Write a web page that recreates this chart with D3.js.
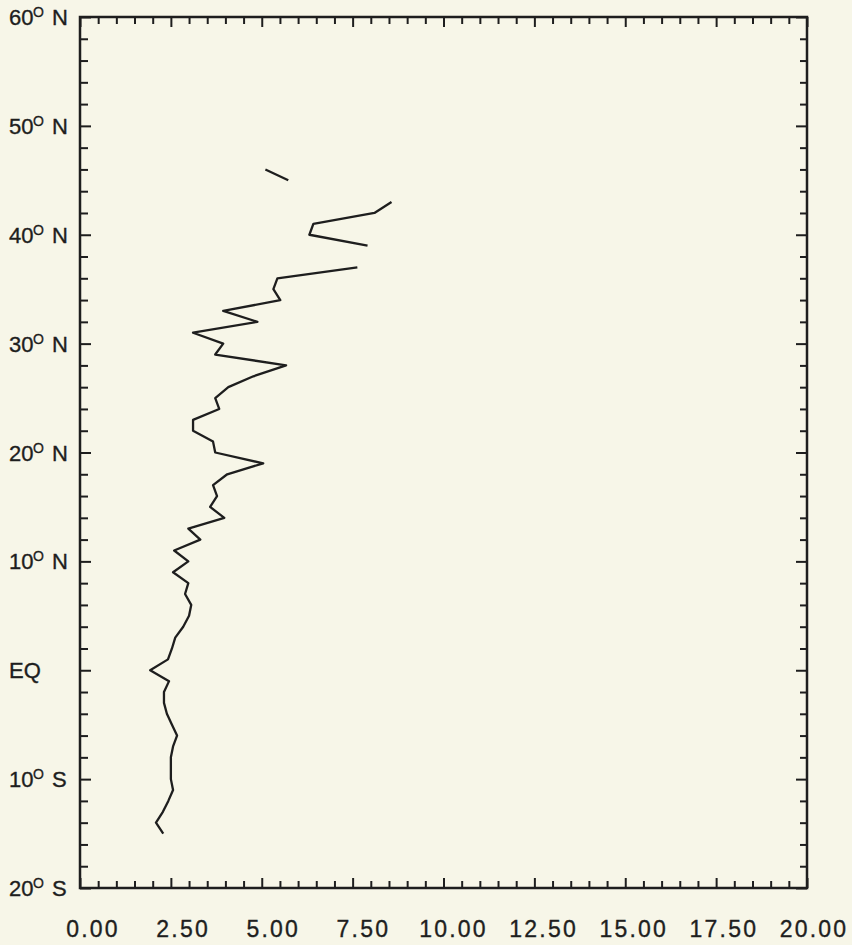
<!DOCTYPE html>
<html>
<head>
<meta charset="utf-8">
<script src="https://cdn.jsdelivr.net/npm/d3@7"></script>
<style>
  html, body { margin: 0; padding: 0; background: #f7f6e8; }
  svg { display: block; }
</style>
</head>
<body>
<svg id="chart" width="852" height="945"></svg>
<script>
// ---- data ----
const latitudes = [46, 45, 44, 43, 42, 41, 40, 39, 38, 37, 36, 35, 34, 33, 32, 31, 30,
  29, 28, 27, 26, 25, 24, 23, 22, 21, 20, 19, 18, 17, 16, 15, 14, 13, 12, 11, 10,
  9, 8, 7, 6, 5, 4, 3, 2, 1, 0, -1, -2, -3, -4, -5, -6, -7, -8, -9, -10,
  -11, -12, -13, -14, -15];
const values = [5.10, 5.73, null, 8.57, 8.10, 6.42, 6.31, 7.91, null, 7.63, 5.43, 5.32, 5.51, 3.94, 4.88, 3.11, 3.94,
  3.72, 5.67, 4.77, 4.08, 3.72, 3.83, 3.11, 3.11, 3.66, 3.72, 5.04, 4.05, 3.66, 3.77, 3.58, 3.97, 2.98, 3.31, 2.59, 2.98,
  2.56, 2.98, 2.89, 3.06, 3.00, 2.84, 2.62, 2.53, 2.42, 1.93, 2.45, 2.31, 2.31, 2.39, 2.53, 2.67, 2.56, 2.50, 2.50, 2.50,
  2.56, 2.43, 2.28, 2.09, 2.29];

const xTickValues = [0, 2.5, 5, 7.5, 10, 12.5, 15, 17.5, 20];
const xTickLabels = ["0.00", "2.50", "5.00", "7.50", "10.00", "12.50", "15.00", "17.50", "20.00"];
const yTickValues = [60, 50, 40, 30, 20, 10, 0, -10, -20];
const yTickNumbers = ["60", "50", "40", "30", "20", "10", "EQ", "10", "20"];
const yTickHemis = ["N", "N", "N", "N", "N", "N", "", "S", "S"];

(function () {
// ---- layout ----
const pLeft = 80, pRight = 807, pTop = 17, pBottom = 888;
const ink = "#1e1e1e";
const font = "Liberation Sans, Arial, sans-serif";
const svg = d3.select("#chart");

svg.append("rect").attr("width", 852).attr("height", 945).attr("fill", "#f7f6e8");

const x = d3.scaleLinear().domain([0, 20]).range([pLeft, pRight]);
const y = d3.scaleLinear().domain([-20, 60]).range([pBottom, pTop]);

const xMinor = d3.range(0, 20.001, 0.5).filter(v => Math.abs(v / 2.5 - Math.round(v / 2.5)) > 1e-6);
const yMinor = d3.range(-20, 60.001, 2).filter(v => v % 10 !== 0);

function styleAxis(g) {
  g.select(".domain").remove();
  g.selectAll(".tick line").attr("stroke", ink).attr("stroke-width", 2);
  g.selectAll(".tick text").remove();
}

const majorLen = 10, minorLen = 7;
// bottom
svg.append("g").attr("transform", `translate(0,${pBottom})`)
  .call(d3.axisBottom(x).tickValues(xTickValues).tickSize(-majorLen).tickFormat("")).call(styleAxis);
svg.append("g").attr("transform", `translate(0,${pBottom})`)
  .call(d3.axisBottom(x).tickValues(xMinor).tickSize(-minorLen).tickFormat("")).call(styleAxis);
// top
svg.append("g").attr("transform", `translate(0,${pTop})`)
  .call(d3.axisTop(x).tickValues(xTickValues).tickSize(-majorLen).tickFormat("")).call(styleAxis);
svg.append("g").attr("transform", `translate(0,${pTop})`)
  .call(d3.axisTop(x).tickValues(xMinor).tickSize(-minorLen).tickFormat("")).call(styleAxis);
// left
svg.append("g").attr("transform", `translate(${pLeft},0)`)
  .call(d3.axisLeft(y).tickValues(yTickValues).tickSize(-majorLen - 1).tickFormat("")).call(styleAxis);
svg.append("g").attr("transform", `translate(${pLeft},0)`)
  .call(d3.axisLeft(y).tickValues(yMinor).tickSize(-minorLen - 1).tickFormat("")).call(styleAxis);
// right
svg.append("g").attr("transform", `translate(${pRight},0)`)
  .call(d3.axisRight(y).tickValues(yTickValues).tickSize(-majorLen - 1).tickFormat("")).call(styleAxis);
svg.append("g").attr("transform", `translate(${pRight},0)`)
  .call(d3.axisRight(y).tickValues(yMinor).tickSize(-minorLen).tickFormat("")).call(styleAxis);

// frame
svg.append("rect")
  .attr("x", pLeft).attr("y", pTop)
  .attr("width", pRight - pLeft).attr("height", pBottom - pTop)
  .attr("fill", "none").attr("stroke", ink).attr("stroke-width", 2.5);

// x labels
svg.append("g").selectAll("text")
  .data(xTickValues)
  .join("text")
  .attr("x", (d) => x(d) + 13 - 0.3 * d)
  .attr("y", 937)
  .attr("text-anchor", "middle")
  .attr("font-family", font)
  .attr("font-size", 23)
  .attr("letter-spacing", 2.2)
  .attr("fill", ink)
  .attr("stroke", ink)
  .attr("stroke-width", 0.35)
  .text((d, i) => xTickLabels[i]);

// y labels
const yl = svg.append("g").selectAll("g")
  .data(yTickValues)
  .join("g")
  .attr("transform", d => `translate(0,${y(d)})`);

yl.append("text")
  .attr("x", 9)
  .attr("y", 8)
  .attr("font-family", font)
  .attr("font-size", 22)
  .attr("fill", ink)
  .attr("stroke", ink)
  .attr("stroke-width", 0.35)
  .text((d, i) => yTickNumbers[i]);

yl.filter((d, i) => yTickHemis[i] !== "")
  .append("text")
  .attr("x", 33)
  .attr("y", 0)
  .attr("font-family", font)
  .attr("font-size", 14)
  .attr("fill", ink)
  .attr("stroke", ink)
  .attr("stroke-width", 0.3)
  .text("O");

yl.filter((d, i) => yTickHemis[i] !== "")
  .append("text")
  .attr("x", 52)
  .attr("y", 8)
  .attr("font-family", font)
  .attr("font-size", 22)
  .attr("fill", ink)
  .attr("stroke", ink)
  .attr("stroke-width", 0.35)
  .text(d => yTickHemis[yTickValues.indexOf(d)]);

// data line
const pts = latitudes.map((lat, i) => ({ lat: lat, v: values[i] }));
const line = d3.line()
  .defined(d => d.v !== null)
  .x(d => x(d.v))
  .y(d => y(d.lat));

svg.append("path")
  .datum(pts)
  .attr("d", line)
  .attr("fill", "none")
  .attr("stroke", ink)
  .attr("stroke-width", 2.3)
  .attr("stroke-linejoin", "round");
})();
</script>
</body>
</html>
